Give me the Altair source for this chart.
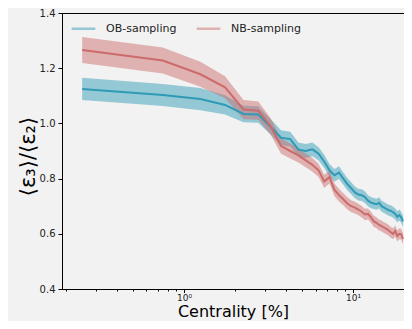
import altair as alt
import pandas as pd

centrality = [0.25, 0.75, 1.25, 1.75, 2.25, 2.75, 3.25, 3.75, 4.25, 4.75,
              5.25, 5.75, 6.25, 6.75, 7.25, 7.75, 8.25, 8.75, 9.25, 9.75,
              10.25, 10.75, 11.25, 11.75, 12.25, 12.75, 13.25, 13.75, 14.25, 14.75,
              15.25, 15.75, 16.25, 16.75, 17.25, 17.75, 18.25, 18.75, 19.25, 19.75]

ob_mean = [1.125, 1.103, 1.088, 1.067, 1.034, 1.032, 0.988, 0.948, 0.943, 0.905,
           0.900, 0.906, 0.890, 0.862, 0.830, 0.812, 0.822, 0.800, 0.780, 0.765,
           0.750, 0.742, 0.740, 0.733, 0.720, 0.713, 0.710, 0.707, 0.712, 0.700,
           0.695, 0.690, 0.685, 0.683, 0.678, 0.672, 0.662, 0.668, 0.660, 0.645]
ob_err = [0.040, 0.040, 0.040, 0.035, 0.030, 0.030, 0.028, 0.027, 0.027, 0.026,
          0.025, 0.025, 0.024, 0.024, 0.023, 0.023, 0.023, 0.022, 0.022, 0.022,
          0.021, 0.021, 0.021, 0.021, 0.020, 0.020, 0.020, 0.020, 0.020, 0.020,
          0.020, 0.020, 0.020, 0.020, 0.020, 0.020, 0.020, 0.020, 0.020, 0.020]

nb_mean = [1.266, 1.228, 1.178, 1.131, 1.050, 1.046, 0.990, 0.918, 0.900, 0.884,
           0.866, 0.850, 0.830, 0.790, 0.805, 0.760, 0.740, 0.725, 0.710, 0.700,
           0.695, 0.688, 0.680, 0.670, 0.672, 0.660, 0.645, 0.640, 0.632, 0.628,
           0.622, 0.618, 0.612, 0.605, 0.600, 0.610, 0.592, 0.600, 0.598, 0.582]
nb_err = [0.047, 0.047, 0.045, 0.040, 0.035, 0.033, 0.030, 0.028, 0.027, 0.026,
          0.025, 0.025, 0.024, 0.024, 0.023, 0.023, 0.023, 0.022, 0.022, 0.022,
          0.021, 0.021, 0.021, 0.021, 0.020, 0.020, 0.020, 0.020, 0.020, 0.020,
          0.020, 0.020, 0.020, 0.020, 0.020, 0.020, 0.020, 0.020, 0.020, 0.020]

series_names = ["OB-sampling", "NB-sampling"]
series_colors = ["#2e9ab6", "#cc6b6b"]

x_ticks = [0.2, 0.3, 0.4, 0.5, 0.6, 0.7, 0.8, 0.9, 1, 2, 3, 4, 5, 6, 7, 8, 9, 10, 20]
y_ticks = [0.4, 0.6, 0.8, 1.0, 1.2, 1.4]

rows = []
for name, m, e in [(series_names[0], ob_mean, ob_err), (series_names[1], nb_mean, nb_err)]:
    for c, v, d in zip(centrality, m, e):
        rows.append({"c": c, "v": v, "lo": v - d, "hi": v + d, "s": name})
df = pd.DataFrame(rows)

font = "DejaVu Sans"
xscale = alt.Scale(type="log", domain=[0.19, 20], nice=False)
yscale = alt.Scale(domain=[0.4, 1.4], nice=False, zero=False)
color = alt.Color("s:N", scale=alt.Scale(domain=series_names, range=series_colors),
                  sort=series_names,
                  legend=alt.Legend(title=None, orient="none", legendX=8, legendY=2,
                                    direction="horizontal", symbolType="stroke",
                                    symbolSize=560, symbolStrokeWidth=2.5,
                                    labelFont=font, labelFontSize=11, labelColor="#222",
                                    labelOffset=9, columnPadding=14))

xaxis = alt.Axis(title="Centrality [%]", values=x_ticks,
                 labelExpr="datum.value == 1 ? '10⁰' : (datum.value == 10 ? '10¹' : '')",
                 tickSize={"expr": "datum.value == 1 || datum.value == 10 ? 3.5 : 2"},
                 grid=False, domainColor="black", tickColor="black",
                 labelFont=font, labelFontSize=9, labelColor="#222", labelPadding=1,
                 titleFont=font, titleFontSize=16, titleFontWeight="normal",
                 titleColor="black", titleBaseline="alphabetic", titleY=27)
yaxis = alt.Axis(title="⟨ε₃⟩/⟨ε₂⟩", values=y_ticks, format=".1f", grid=False,
                 domainColor="black", tickColor="black", tickSize=4,
                 labelFont=font, labelFontSize=10, labelColor="#222", labelPadding=3,
                 titleFont=font, titleFontSize=21, titleFontWeight="normal",
                 titleColor="black", titleX=-34, titleY=143,
                 titleBaseline="middle", titleAlign="center")

base = alt.Chart(df)
band = base.mark_area(opacity=0.48).encode(
    x=alt.X("c:Q", scale=xscale, axis=xaxis),
    y=alt.Y("lo:Q", scale=yscale, axis=yaxis),
    y2="hi:Q",
    color=color,
    detail="s:N",
)
line = base.mark_line(strokeWidth=2).encode(
    x=alt.X("c:Q", scale=xscale),
    y=alt.Y("v:Q", scale=yscale),
    color=color,
)

chart = alt.layer(band, line).properties(
    width=342, height=276,
    autosize=alt.AutoSizeParams(type="none"),
    padding={"left": 54, "top": 5, "right": 0, "bottom": 32},
    background="#f2f2f2",
).configure_view(stroke="black", strokeWidth=1, fill="#f2f2f2")

chart.save("out.html", embed_options={"renderer": "svg", "actions": False})
